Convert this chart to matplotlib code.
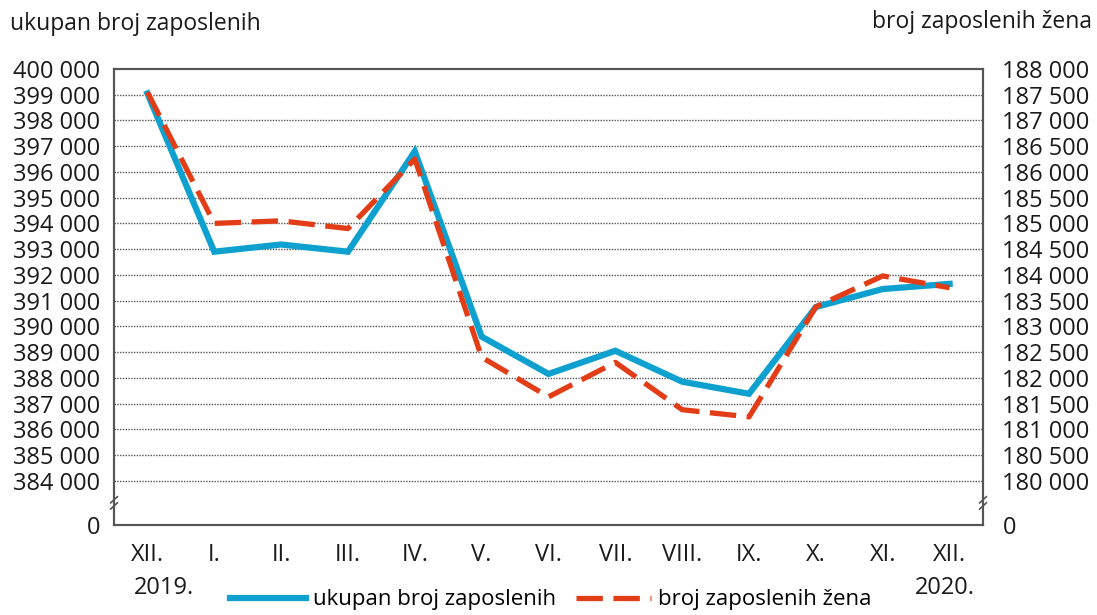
import matplotlib.pyplot as plt
from matplotlib.lines import Line2D

plt.rcParams['font.family'] = ['Open Sans', 'DejaVu Sans']

months = ['XII.', 'I.', 'II.', 'III.', 'IV.', 'V.', 'VI.', 'VII.', 'VIII.',
          'IX.', 'X.', 'XI.', 'XII.']
total = [399050, 392900, 393180, 392900, 396800, 389600, 388150, 389050,
         387850, 387380, 390750, 391450, 391650]
women = [187550, 185000, 185050, 184900, 186250, 182400, 181630, 182300,
         181380, 181240, 183380, 183980, 183750]
left_ticks = [0] + list(range(384000, 401000, 1000))
right_ticks = [0] + list(range(180000, 188500, 500))

BLUE = '#0ea1cf'
RED = '#e23d16'
BOTTOM = -1.72


def left_pos(v):
    return BOTTOM if v == 0 else (v - 384000) / 1000.0


def right_pos(v):
    return BOTTOM if v == 0 else (v - 180000) / 500.0


def fmt(v):
    return '{:,}'.format(v).replace(',', ' ')


fig = plt.figure(figsize=(10.97, 6.15), dpi=100)
ax = fig.add_axes([114 / 1097, 90 / 615, 869 / 1097, 456 / 615])
x = list(range(len(months)))

for v in left_ticks[1:-1]:
    ax.axhline(left_pos(v), color='#555555', lw=1.0, ls=(0, (1, 1)), zorder=1)

ax.plot(x, [left_pos(v) for v in total], color=BLUE, lw=4.5,
        solid_joinstyle='miter', zorder=3)
ax.plot(x, [right_pos(v) for v in women], color=RED, lw=3.8,
        dashes=(5, 2.0), zorder=4)

ax.set_xlim(-0.5, len(months) - 0.5)
ax.set_ylim(BOTTOM, 16)
ax.set_xticks(x)
ax.set_xticklabels(months)
ax.set_yticks([left_pos(v) for v in left_ticks])
ax.set_yticklabels([fmt(v) for v in left_ticks])
ax.tick_params(axis='both', length=0, labelsize=17, colors='#1a1a1a')
ax.tick_params(axis='x', pad=13)
ax.tick_params(axis='y', pad=10)

ax2 = ax.twinx()
ax2.set_ylim(BOTTOM, 16)
ax2.set_yticks([right_pos(v) for v in right_ticks])
ax2.set_yticklabels([fmt(v) for v in right_ticks])
ax2.tick_params(axis='y', length=0, labelsize=17, colors='#1a1a1a', pad=14)

for a in (ax, ax2):
    for s in a.spines.values():
        s.set_color('#555555')
        s.set_linewidth(1.5)

# break marks on both spines
ybrk = (left_pos(0) + left_pos(384000)) / 2 + 0.0
for xb in (-0.5, len(months) - 0.5):
    for dy in (-0.12, 0.12):
        ax.plot([xb - 0.05, xb + 0.05], [ybrk + dy - 0.12, ybrk + dy + 0.12],
                color='#555555', lw=1.2, clip_on=False, zorder=5)

fig.text(10 / 1097, 1 - 24 / 615, 'ukupan broj zaposlenih', fontsize=16.5,
         va='center', ha='left', color='#1a1a1a')
fig.text(1092 / 1097, 1 - 22 / 615, 'broj zaposlenih žena', fontsize=16.5,
         va='center', ha='right', color='#1a1a1a')
fig.text(164 / 1097, 1 - 588 / 615, '2019.', fontsize=17,
         va='center', ha='center', color='#1a1a1a')
fig.text(945 / 1097, 1 - 588 / 615, '2020.', fontsize=17,
         va='center', ha='center', color='#1a1a1a')

handles = [Line2D([], [], color=BLUE, lw=4.5),
           Line2D([], [], color=RED, lw=3.8, dashes=(5, 2.0))]
fig.legend(handles, ['ukupan broj zaposlenih', 'broj zaposlenih žena'],
           loc='center', bbox_to_anchor=(551 / 1097, 1 - 600 / 615),
           ncol=2, frameon=False, fontsize=16, handlelength=3.4,
           handletextpad=0.3, columnspacing=0.9, borderpad=0)

fig.savefig('out.png', dpi=100)
